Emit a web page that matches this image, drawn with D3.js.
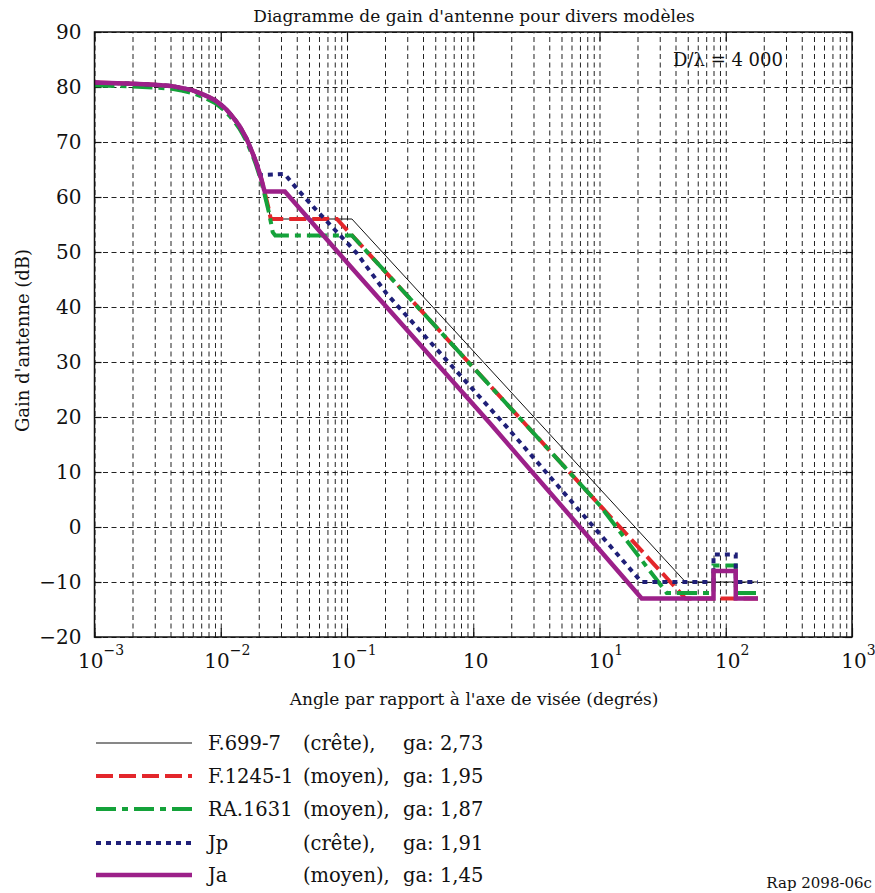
<!DOCTYPE html>
<html><head><meta charset="utf-8">
<script src="https://cdnjs.cloudflare.com/ajax/libs/d3/7.8.5/d3.min.js"></script>
<style>
html,body{margin:0;padding:0;background:#fff;}
</style></head>
<body><svg id="c" width="875" height="893"></svg>
<script>
// ---- data ----
const titleText = "Diagramme de gain d'antenne pour divers modèles";
const xTitle = "Angle par rapport à l'axe de visée (degrés)";
const yTitle = "Gain d'antenne (dB)";
const noteText = "D/λ = 4 000";
const refText = "Rap 2098-06c";

const xTickValues = [1e-3, 1e-2, 1e-1, 1, 10, 100, 1000];
const xTickSup = ["−3", "−2", "−1", "", "1", "2", "3"];
const yTickValues = [-20, -10, 0, 10, 20, 30, 40, 50, 60, 70, 80, 90];

// main lobe (angle in degrees, gain in dB)
const lobeDeg  = [0.001,0.002,0.003,0.004,0.005,0.006,0.007,0.008,0.009,0.010,0.011,0.012,0.013,0.014,0.015,0.016,0.017,0.018,0.019,0.020,0.021,0.022,0.023,0.024];
const lobeGain = [80.8,80.6,80.4,80.2,79.8,79.4,78.8,78.2,77.6,76.8,76.0,75.0,74.0,73.0,71.8,70.6,69.2,67.8,66.4,64.8,63.2,61.4,59.6,57.8];
const raLobeGain = [80.3,80.1,79.9,79.7,79.3,78.9,78.3,77.7,77.1,76.3,75.5,74.5,73.5,72.5,71.3,70.1,68.7,67.3,65.9,64.3,62.7,60.9,59.1,57.3];

// side-lobe parts of each model
const f699Deg  = [0.0249, 0.1094, 48, 180];
const f699Gain = [56, 56, -10, -10];
const f1245Deg  = [0.0249, 0.0832, 48, 180];
const f1245Gain = [56, 56, -13, -13];
const ra1631Deg  = [0.025, 0.0258, 0.027, 0.1096, 10, 34.1, 80, 80, 120, 120, 180];
const ra1631Gain = [55.3, 53.6, 53, 53, 4, -12, -12, -7, -7, -12, -12];
const jpDeg  = [0.0205, 0.032, 0.0398, 0.0541, 0.0804, 0.1193, 0.2047, 1.84, 21.5, 80, 80, 120, 120, 180];
const jpGain = [64, 64.2, 61.6, 58.2, 54, 49.8, 42.5, 18.2, -10, -10, -5, -5, -10, -10];
const jaDeg  = [0.0223, 0.0322, 0.112, 1.357, 21.6, 80, 80, 120, 120, 180];
const jaGain = [61, 61, 46.8, 18.85, -13, -13, -8, -8, -13, -13];

const seriesNames = ["F.699-7", "F.1245-1", "RA.1631", "Jp", "Ja"];
const seriesType  = ["(crête),", "(moyen),", "(moyen),", "(crête),", "(moyen),"];
const seriesGa    = ["ga: 2,73", "ga: 1,95", "ga: 1,87", "ga: 1,91", "ga: 1,45"];

function build(lg, deg, gain){
  const pts = [];
  lobeDeg.forEach((d,i)=>{ if (d < deg[0]) pts.push([d, lg[i]]); });
  deg.forEach((d,i)=>pts.push([d, gain[i]]));
  return pts;
}
const styles = [
  {color:"#111", width:1, dash:null},
  {color:"#e3262b", width:4, dash:"17,6"},
  {color:"#14a23a", width:4, dash:"20,6,6,6"},
  {color:"#1f1f78", width:4, dash:"5,5"},
  {color:"#9c2089", width:4.5, dash:null}
];
const series = [
  build(lobeGain, f699Deg, f699Gain),
  build(lobeGain, f1245Deg, f1245Gain),
  build(raLobeGain, ra1631Deg, ra1631Gain),
  build(lobeGain, jpDeg, jpGain),
  build(lobeGain, jaDeg, jaGain)
];

const FONT = "DejaVu Serif";

const L = 94.5, R = 852, T = 32, B = 637;
const svg = d3.select("#c");
const x = d3.scaleLog().domain([1e-3, 1e3]).range([L, R]);
const y = d3.scaleLinear().domain([-20, 90]).range([B, T]);

const gridX = svg.append("g").attr("transform", `translate(0,${B})`)
  .call(d3.axisBottom(x).tickValues(x.ticks()).tickSize(-(B - T)).tickFormat(""));
gridX.select(".domain").remove();
gridX.selectAll("line").attr("stroke", "#222").attr("stroke-width", 1).attr("stroke-dasharray", "5,3.5");
const gridY = svg.append("g").attr("transform", `translate(${L},0)`)
  .call(d3.axisLeft(y).tickValues(yTickValues).tickSize(-(R - L)).tickFormat(""));
gridY.select(".domain").remove();
gridY.selectAll("line").attr("stroke", "#222").attr("stroke-width", 1).attr("stroke-dasharray", "5,3.5");

[[d3.axisBottom(x), B, -9], [d3.axisTop(x), T, -9]].forEach(([ax, yy, s]) => {
  const g = svg.append("g").attr("transform", `translate(0,${yy})`)
    .call(ax.tickValues(xTickValues).tickSize(s).tickFormat(""));
  g.select(".domain").remove();
  g.selectAll("line").attr("stroke", "#111").attr("stroke-width", 1.2);
});
[[d3.axisLeft(y), L, -7], [d3.axisRight(y), R, -7]].forEach(([ax, xx, s]) => {
  const g = svg.append("g").attr("transform", `translate(${xx},0)`)
    .call(ax.tickValues(yTickValues).tickSize(s).tickFormat(""));
  g.select(".domain").remove();
  g.selectAll("line").attr("stroke", "#111").attr("stroke-width", 1.2);
});

const line = d3.line().x(d => x(d[0])).y(d => y(d[1]));
series.forEach((s, i) => {
  const st = styles[i];
  svg.append("path").datum(s).attr("d", line)
    .attr("fill", "none").attr("stroke", st.color).attr("stroke-width", st.width)
    .attr("stroke-dasharray", st.dash).attr("stroke-linejoin", "miter");
});

svg.append("rect").attr("x", L).attr("y", T).attr("width", R - L).attr("height", B - T)
  .attr("fill", "none").attr("stroke", "#111").attr("stroke-width", 1.5);

const yLab = svg.append("g").attr("transform", `translate(${L},0)`)
  .call(d3.axisLeft(y).tickValues(yTickValues).tickSize(0).tickPadding(13)
    .tickFormat(d => d < 0 ? "−" + Math.abs(d) : String(d)));
yLab.select(".domain").remove();
yLab.attr("font-family", FONT);
yLab.selectAll("text").attr("font-size", 20).attr("fill", "#111");

const xLab = svg.append("g").attr("transform", `translate(0,${B})`)
  .call(d3.axisBottom(x).tickValues(xTickValues).tickSize(0).tickPadding(0).tickFormat(""));
xLab.select(".domain").remove();
xLab.attr("font-family", FONT);
xLab.selectAll(".tick").each(function(d, i) {
  const t = d3.select(this).append("text").attr("y", 31).attr("font-size", 20)
    .attr("fill", "#111").attr("text-anchor", "middle")
    .attr("dx", xTickSup[i] ? 6 : 2);
  t.append("tspan").text("10");
  if (xTickSup[i]) t.append("tspan").attr("dy", -13).attr("font-size", 14).text(xTickSup[i]);
});

function txt(xp, yp, s, size, anchor) {
  return svg.append("text").attr("x", xp).attr("y", yp).attr("font-size", size)
    .style("font-family", FONT).attr("fill", "#111").attr("text-anchor", anchor || "start").text(s);
}
txt(474, 22, titleText, 17, "middle");
txt(474, 705, xTitle, 17, "middle");
svg.append("text").attr("transform", `translate(29,${(T + B) / 2 + 6}) rotate(-90)`).attr("text-anchor", "middle")
  .style("font-family", FONT).attr("fill", "#111").attr("font-size", 18).text(yTitle);
txt(673, 66, noteText, 18);
txt(872, 888, refText, 15, "end");

const legY = [743, 776, 809, 843, 875];
seriesNames.forEach((n, i) => {
  const st = styles[i];
  svg.append("line").attr("x1", 96).attr("x2", 192).attr("y1", legY[i]).attr("y2", legY[i])
    .attr("stroke", st.color).attr("stroke-width", st.width).attr("stroke-dasharray", st.dash);
  txt(208, legY[i] + 7, n, 19.5);
  txt(303, legY[i] + 7, seriesType[i], 19.5);
  txt(403, legY[i] + 7, seriesGa[i], 19.5);
});
</script></body></html>
